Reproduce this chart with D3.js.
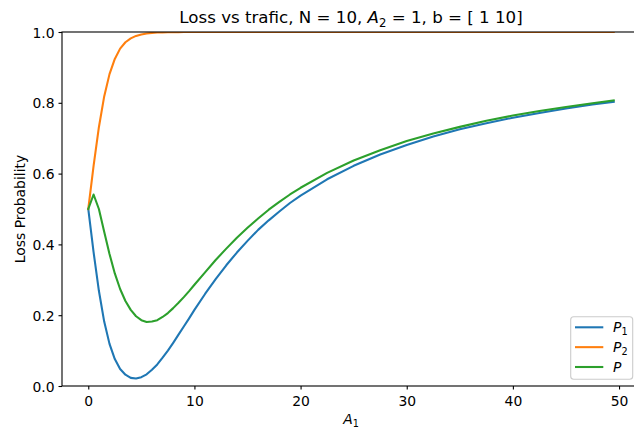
<!DOCTYPE html>
<html>
<head>
<meta charset="utf-8">
<script src="https://cdn.jsdelivr.net/npm/d3@7"></script>
<style>
  body { margin: 0; background: #fff; }
  svg { display: block; font-family: "DejaVu Sans", sans-serif; }
</style>
</head>
<body>
<svg id="chart" width="634" height="429"></svg>
<script>
"use strict"

// A1 traffic values and the three loss curves
let a1 = [0, 0.5, 1, 1.5, 2, 2.5, 3, 3.5, 4, 4.5, 5, 5.5, 6, 6.5, 7, 7.5, 8, 8.5, 9, 9.5, 10,
          11, 12, 13, 14, 15, 16, 17, 18, 19, 20,
          22.5, 25, 27.5, 30, 32.5, 35, 37.5, 40, 42.5, 45, 47.5, 49.5]

let p1 = [0.500, 0.378, 0.269, 0.182, 0.119, 0.076, 0.048, 0.032, 0.023, 0.021, 0.025,
          0.033, 0.046, 0.061, 0.080, 0.100, 0.122, 0.145, 0.168, 0.191, 0.215,
          0.260, 0.302, 0.341, 0.377, 0.410, 0.441, 0.468, 0.493, 0.517, 0.538,
          0.584, 0.622, 0.654, 0.681, 0.705, 0.725, 0.742, 0.758, 0.771, 0.784, 0.795, 0.803]

let p2 = [0.500, 0.622, 0.731, 0.818, 0.881, 0.924, 0.953, 0.971, 0.982, 0.989, 0.9932,
          0.9958, 0.9974, 0.9984, 0.9990, 0.9994, 0.9996, 0.9997, 0.9998, 0.9999, 0.9999,
          1, 1, 1, 1, 1, 1, 1, 1, 1, 1,
          1, 1, 1, 1, 1, 1, 1, 1, 1, 1, 1, 1]

let pAll = [0.500, 0.541, 0.500, 0.436, 0.373, 0.318, 0.274, 0.240, 0.215, 0.197, 0.186,
            0.181, 0.182, 0.186, 0.195, 0.206, 0.220, 0.235, 0.251, 0.268, 0.286,
            0.321, 0.356, 0.388, 0.419, 0.447, 0.473, 0.498, 0.520, 0.541, 0.560,
            0.602, 0.637, 0.666, 0.692, 0.713, 0.732, 0.749, 0.764, 0.777, 0.788, 0.799, 0.807]

let xTicks = [0, 10, 20, 30, 40, 50]
let yTicks = [0, 0.2, 0.4, 0.6, 0.8, 1.0]

let series = [
    { name: "P", sub: "1", values: p1, color: "#1f77b4" },
    { name: "P", sub: "2", values: p2, color: "#ff7f0e" },
    { name: "P", sub: "", values: pAll, color: "#2ca02c" }
]

let plotLeft = 62, plotRight = 640, plotTop = 32, plotBottom = 386
let svg = d3.select("#chart")

let xscale = d3.scaleLinear().domain([-2.475, 51.975]).range([plotLeft, plotRight])
let yscale = d3.scaleLinear().domain([0, 1]).range([plotBottom, plotTop])

svg.append("defs").append("clipPath").attr("id", "plotclip")
    .append("rect")
    .attr("x", plotLeft).attr("y", plotTop)
    .attr("width", plotRight - plotLeft).attr("height", plotBottom - plotTop)

// curves
let line = d3.line()
    .x(function(d, i) { return xscale(a1[i]) })
    .y(function(d) { return yscale(d) })

svg.append("g").attr("clip-path", "url(#plotclip)")
    .selectAll("path")
    .data(series)
    .enter().append("path")
    .attr("d", function(d) { return line(d.values) })
    .attr("fill", "none")
    .attr("stroke", function(d) { return d.color })
    .attr("stroke-width", 2.08)
    .attr("stroke-linejoin", "round")
    .attr("stroke-linecap", "square")

// axes
let xAxis = svg.append("g")
    .attr("transform", "translate(0," + plotBottom + ")")
    .call(d3.axisBottom(xscale).tickValues(xTicks).tickFormat(d3.format("d"))
        .tickSize(3.5).tickPadding(3.5))
xAxis.select(".domain").remove()
xAxis.selectAll("text").attr("y", 20).attr("dy", null)

let yAxis = svg.append("g")
    .attr("transform", "translate(" + plotLeft + ",0)")
    .call(d3.axisLeft(yscale).tickValues(yTicks).tickFormat(d3.format(".1f"))
        .tickSize(3.5).tickPadding(3.5))
yAxis.select(".domain").remove()
yAxis.selectAll("text").attr("x", -7.5).attr("dy", "0.36em")

svg.selectAll(".tick line").attr("stroke", "#000").attr("stroke-width", 1.1)
svg.selectAll(".tick text")
    .attr("fill", "#000")
    .style("font-family", "DejaVu Sans")
    .style("font-size", "13.9px")

// frame drawn above the lines, as matplotlib does
svg.append("rect")
    .attr("x", plotLeft).attr("y", plotTop)
    .attr("width", plotRight - plotLeft).attr("height", plotBottom - plotTop)
    .attr("fill", "none")
    .attr("stroke", "#000")
    .attr("stroke-width", 1.1)

// title
let title = svg.append("text")
    .attr("x", (plotLeft + plotRight) / 2).attr("y", 23.3)
    .attr("text-anchor", "middle")
    .style("font-size", "16.67px")
title.append("tspan").text("Loss vs trafic, N = 10, ")
title.append("tspan").style("font-style", "italic").text("A")
title.append("tspan").attr("dy", 3.2).style("font-size", "11.7px").text("2")
title.append("tspan").attr("dy", -3.2).text(" = 1, b = [ 1 10]")

// axis labels
let xLabel = svg.append("text")
    .attr("x", (plotLeft + plotRight) / 2).attr("y", 424)
    .attr("text-anchor", "middle")
    .style("font-size", "13.9px")
xLabel.append("tspan").style("font-style", "italic").text("A")
xLabel.append("tspan").attr("dy", 2.7).style("font-size", "9.7px").text("1")

svg.append("text")
    .attr("transform", "translate(25," + ((plotTop + plotBottom) / 2) + ") rotate(-90)")
    .attr("text-anchor", "middle")
    .style("font-size", "13.9px")
    .text("Loss Probability")

// legend
let legend = svg.append("g")
legend.append("rect")
    .attr("x", 570.7).attr("y", 316.7)
    .attr("width", 62).attr("height", 62.5)
    .attr("rx", 3).attr("ry", 3)
    .attr("fill", "#fff").attr("fill-opacity", 0.8)
    .attr("stroke", "#cccccc").attr("stroke-width", 1.1)

let items = legend.selectAll(".item")
    .data(series)
    .enter().append("g")
    .attr("transform", function(d, i) { return "translate(0," + (327.3 + i * 19.85) + ")" })

items.append("line")
    .attr("x1", 575).attr("x2", 603.3)
    .attr("stroke", function(d) { return d.color })
    .attr("stroke-width", 2.08)

let itemText = items.append("text")
    .attr("x", 613).attr("y", 5)
    .style("font-size", "13.9px")
itemText.append("tspan").style("font-style", "italic").text(function(d) { return d.name })
itemText.append("tspan").attr("dy", 2.7).style("font-size", "9.7px").text(function(d) { return d.sub })
</script>
</body>
</html>
